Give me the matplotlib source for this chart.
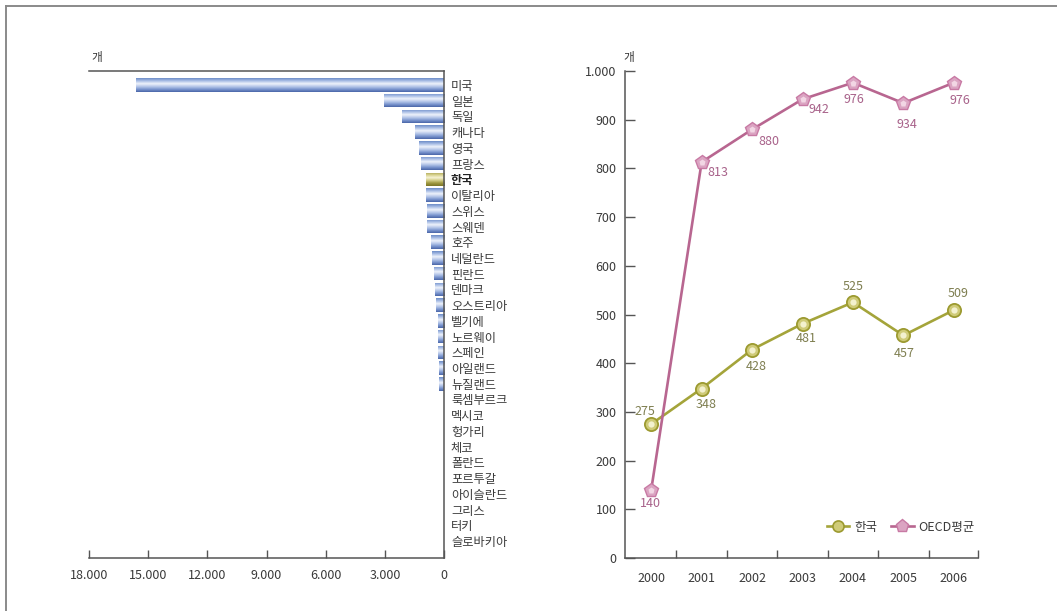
import matplotlib
matplotlib.use("Agg")
import matplotlib.pyplot as plt
import numpy as np
from matplotlib.colors import LinearSegmentedColormap
from matplotlib.lines import Line2D
from matplotlib.ticker import FuncFormatter

plt.rcParams['font.family'] = ['Noto Sans CJK KR', 'DejaVu Sans']

# ---- data -------------------------------------------------------------
countries = ['미국', '일본', '독일', '캐나다', '영국', '프랑스', '한국', '이탈리아',
             '스위스', '스웨덴', '호주', '네덜란드', '핀란드', '덴마크', '오스트리아',
             '벨기에', '노르웨이', '스페인', '아일랜드', '뉴질랜드', '룩셈부르크',
             '멕시코', '헝가리', '체코', '폴란드', '포르투갈', '아이슬란드', '그리스',
             '터키', '슬로바키아']
counts = [15600, 3050, 2150, 1450, 1250, 1150, 920, 910,
          880, 840, 660, 610, 510, 460, 410,
          310, 300, 290, 260, 250, 0,
          0, 0, 0, 0, 0, 0, 0,
          0, 0]
bar_ticks = [18000, 15000, 12000, 9000, 6000, 3000, 0]

years = ['2000', '2001', '2002', '2003', '2004', '2005', '2006']
korea = [275, 348, 428, 481, 525, 457, 509]
oecd = [140, 813, 880, 942, 976, 934, 976]
line_ticks = [0, 100, 200, 300, 400, 500, 600, 700, 800, 900, 1000]

# label offsets in pixels (dx, dy)
korea_off = [(-6, 13), (4, -16), (4, -17), (4, -15), (0, 16), (1, -18), (4, 17)]
oecd_off = [(-1, -14), (16, -10), (17, -12), (16, -10), (1, -17), (4, -21), (6, -18)]

TXT = '#3a3a3a'
AX = '#555555'
OLIVE = '#a4a43a'
OLIVE_TXT = '#7e7e50'
PINK = '#b86690'
PINK_TXT = '#a8628a'

W, H = 1057, 611
fig = plt.figure(figsize=(W / 100, H / 100), dpi=100)


def fx(px):
    return px / W


def fy(py):
    return 1 - py / H


def thousands(v, _pos=None):
    return f'{int(round(v)):,}'.replace(',', '.')


# ---- outer frame (top and left edges) ---------------------------------
fig.add_artist(Line2D([fx(6), fx(6)], [fy(6), 0], color='#8a8a8a', lw=1.4,
                      transform=fig.transFigure))
fig.add_artist(Line2D([fx(6), 1], [fy(6), fy(6)], color='#8a8a8a', lw=1.4,
                      transform=fig.transFigure))

# ---- left: horizontal bar chart ---------------------------------------
ax1 = fig.add_axes([fx(89), fy(558), fx(444 - 89), (558 - 71) / H])
ypos = np.arange(len(countries))
bars = ax1.barh(ypos, counts, height=0.86, color='none', edgecolor='none')

blue_cmap = LinearSegmentedColormap.from_list(
    'cyl_blue', ['#6d8cc8', '#aabfe6', '#eef2fb', '#b9c9ea', '#7d98d0', '#4a66a8'])
gold_cmap = LinearSegmentedColormap.from_list(
    'cyl_gold', ['#a8a050', '#d8d28e', '#f6f3d6', '#d2cc86', '#9e9840', '#7c7628'])
grad = np.linspace(0, 1, 64).reshape(-1, 1)

for name, bar in zip(countries, bars):
    w = bar.get_width()
    if w <= 0:
        continue
    x0, y0 = bar.get_x(), bar.get_y()
    h = bar.get_height()
    cmap = gold_cmap if name == '한국' else blue_cmap
    im = ax1.imshow(grad, cmap=cmap, aspect='auto', interpolation='bilinear',
                    extent=[x0, x0 + w, y0 + h, y0], zorder=2)
    im.set_clip_path(bar)

ax1.set_xlim(18000, 0)
ax1.set_ylim(len(countries) - 1 + 1.08, -0.89)
ax1.set_xticks(bar_ticks)
ax1.xaxis.set_major_formatter(FuncFormatter(thousands))
ax1.yaxis.tick_right()
ax1.set_yticks(ypos)
ax1.set_yticklabels(countries)
for lbl in ax1.get_yticklabels():
    lbl.set_color(TXT)
    if lbl.get_text() == '한국':
        lbl.set_fontweight('bold')
        lbl.set_color('#222222')
ax1.tick_params(axis='y', length=0, pad=5, labelsize=8.8)
ax1.tick_params(axis='x', direction='in', length=6, width=1, color=AX,
                labelsize=9, labelcolor=TXT, pad=8)
for side in ('top', 'right', 'bottom'):
    ax1.spines[side].set_color(AX)
    ax1.spines[side].set_linewidth(1.1)
ax1.spines['left'].set_visible(False)
ax1.patch.set_alpha(0)
fig.text(fx(97), fy(58), '개', fontsize=8.5, color=TXT, ha='center', va='center')

# ---- right: line chart -------------------------------------------------
ax2 = fig.add_axes([fx(625), fy(558), fx(978 - 625), (558 - 71) / H])
xpos = np.arange(len(years))

ax2.plot(xpos, korea, color=OLIVE, lw=1.9, marker='o', ms=9.5,
         mfc='#cfcb78', mec='#9c9a30', mew=1.3, zorder=3, label='한국')
ax2.plot(xpos, korea, ls='none', marker='o', ms=4.5, mfc='#f3f1cf', mec='none', zorder=4)
ax2.plot(xpos, oecd, color=PINK, lw=1.9, marker='p', ms=10.5,
         mfc='#dba4c2', mec='#c87aa4', mew=1.0, zorder=3, label='OECD평균')
ax2.plot(xpos, oecd, ls='none', marker='p', ms=4.5, mfc='#f2d6e4', mec='none', zorder=4)

for x, v, (dx, dy) in zip(xpos, korea, korea_off):
    ax2.annotate(str(v), (x, v), xytext=(dx, dy), textcoords='offset pixels',
                 ha='center', va='center', fontsize=9, color=OLIVE_TXT)
for x, v, (dx, dy) in zip(xpos, oecd, oecd_off):
    ax2.annotate(str(v), (x, v), xytext=(dx, dy), textcoords='offset pixels',
                 ha='center', va='center', fontsize=9, color=PINK_TXT)

ax2.set_xlim(-0.52, 6.48)
ax2.set_ylim(0, 1000)
ax2.set_yticks(line_ticks)
ax2.yaxis.set_major_formatter(FuncFormatter(thousands))
ax2.set_xticks(xpos)
ax2.set_xticklabels(years)
ax2.set_xticks(list(xpos[:-1] + 0.5) + [6.48], minor=True)
ax2.tick_params(axis='x', which='major', length=0, pad=10, labelsize=9, labelcolor=TXT)
ax2.tick_params(axis='x', which='minor', direction='in', length=6, width=1, color=AX)
ax2.tick_params(axis='y', direction='in', length=7, width=1, color=AX,
                labelsize=9, labelcolor=TXT, pad=6)
for side in ('left', 'bottom'):
    ax2.spines[side].set_color(AX)
    ax2.spines[side].set_linewidth(1.1)
ax2.spines['top'].set_visible(False)
ax2.spines['right'].set_visible(False)
ax2.patch.set_alpha(0)
fig.text(fx(629), fy(57), '개', fontsize=8.5, color=TXT, ha='center', va='center')

# legend with line+marker handles
h_k = Line2D([], [], color=OLIVE, lw=1.9, marker='o', ms=8, mfc='#cfcb78',
             mec='#9c9a30', mew=1.2)
h_o = Line2D([], [], color=PINK, lw=1.9, marker='p', ms=9.5, mfc='#dba4c2',
             mec='#c87aa4', mew=1.0)
leg = ax2.legend([h_k, h_o], ['한국', 'OECD평균'], ncol=2, frameon=False,
                 loc='center right', bbox_to_anchor=(1.005, 0.063),
                 fontsize=9, handlelength=1.8, handletextpad=0.4,
                 columnspacing=1.1, borderaxespad=0)
for t in leg.get_texts():
    t.set_color(TXT)

fig.savefig('out.png', dpi=100)
